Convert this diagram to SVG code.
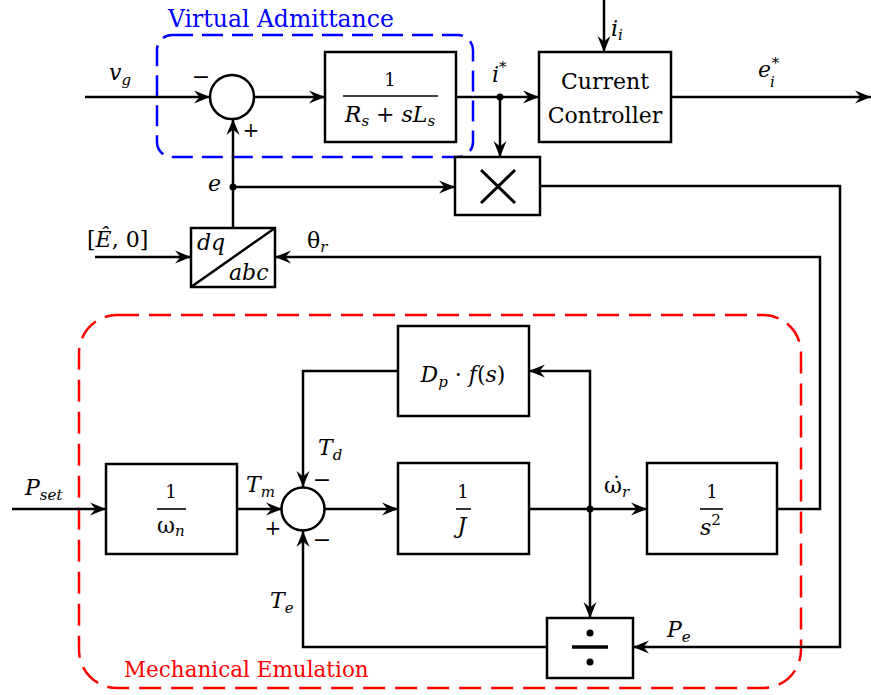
<svg xmlns="http://www.w3.org/2000/svg" width="871" height="695" viewBox="0 0 871 695">
<style>
.blk{fill:#fff;stroke:#000;stroke-width:2.5}
.ln{fill:none;stroke:#000;stroke-width:2.5;marker-end:url(#ah)}
.t{fill:#000}
.m{font-style:italic;fill:#000;font-size:22px}
.up{font-style:normal}
.sub{font-size:15px}
.bar{stroke:#000;stroke-width:1.6}
.dot{fill:#000}
</style>
<defs>
<marker id="ah" markerUnits="userSpaceOnUse" markerWidth="18" markerHeight="14" viewBox="-17 -7 18 14" refX="0" refY="0" orient="auto">
<path d="M0,0 L-16,-6.5 L-10.5,0 L-16,6.5 Z" fill="#000"/>
</marker>
</defs>
<rect width="871" height="695" fill="#fff"/>

<g font-family="DejaVu Serif, Liberation Serif, serif">
<g id="groups">
<rect x="157" y="35" width="316" height="122" rx="15" fill="none" stroke="#0000ff" stroke-width="2.5" stroke-dasharray="21 9"/>
<text class="t" x="168" y="27" font-size="23.5" style="fill:#0000ff">Virtual Admittance</text>
<rect x="79" y="315" width="722" height="373" rx="38" fill="none" stroke="#ff0000" stroke-width="2.5" stroke-dasharray="22 10"/>
<text class="t" x="124" y="677" font-size="21.5" style="fill:#ff0000">Mechanical Emulation</text>
</g>

<g id="connectors">
<line class="ln" x1="85" y1="97" x2="210" y2="97"/>
<line class="ln" x1="254" y1="97" x2="325" y2="97"/>
<line class="ln" x1="456" y1="97" x2="539" y2="97"/>
<line class="ln" x1="500" y1="97" x2="500" y2="157"/>
<line class="ln" x1="233" y1="228" x2="233" y2="119"/>
<line class="ln" x1="233" y1="187" x2="455" y2="187"/>
<line class="ln" x1="604" y1="0" x2="604" y2="52"/>
<line class="ln" x1="671" y1="97" x2="871" y2="97"/>
<polyline class="ln" points="540,186 840,186 840,647 633,647"/>
<polyline class="ln" points="777,509 820,509 820,257 275,257"/>
<line class="ln" x1="95" y1="257" x2="191" y2="257"/>
<line class="ln" x1="12" y1="509" x2="106" y2="509"/>
<line class="ln" x1="237" y1="509" x2="282" y2="509"/>
<line class="ln" x1="325" y1="509" x2="398" y2="509"/>
<line class="ln" x1="529" y1="509" x2="647" y2="509"/>
<polyline class="ln" points="590,509 590,371 529,371"/>
<line class="ln" x1="590" y1="509" x2="590" y2="618"/>
<polyline class="ln" points="398,371 303,371 303,487"/>
<polyline class="ln" points="547,647 303,647 303,531"/>
<circle class="dot" cx="500" cy="97" r="3.5"/>
<circle class="dot" cx="233" cy="187" r="3.5"/>
<circle class="dot" cx="590" cy="509" r="3.5"/>
</g>

<g id="sum1">
<circle cx="232" cy="97" r="22" fill="#fff" stroke="#000" stroke-width="2.5"/>
<text class="t" x="201" y="84" font-size="22" text-anchor="middle">−</text>
<text class="t" x="251" y="137" font-size="20" text-anchor="middle">+</text>
</g>

<g id="admittance">
<rect class="blk" x="325" y="52" width="131" height="90"/>
<text class="t" x="390" y="86" font-size="18" text-anchor="middle">1</text>
<line class="bar" x1="343" y1="96" x2="438" y2="96"/>
<text class="m" x="390" y="122" text-anchor="middle">R<tspan class="sub" dy="4">s</tspan><tspan class="up" dy="-4"> + </tspan>s<tspan>L</tspan><tspan class="sub" dy="4">s</tspan></text>
</g>

<g id="controller">
<rect class="blk" x="539" y="52" width="132" height="90"/>
<text class="t" x="605" y="89" font-size="22" text-anchor="middle">Current</text>
<text class="t" x="605" y="123" font-size="22" text-anchor="middle">Controller</text>
</g>

<g id="mult">
<rect class="blk" x="455" y="157" width="85" height="58"/>
<line x1="481" y1="170" x2="515" y2="203" stroke="#000" stroke-width="3"/>
<line x1="515" y1="170" x2="481" y2="203" stroke="#000" stroke-width="3"/>
</g>

<g id="dqabc">
<rect class="blk" x="191" y="228" width="84" height="59"/>
<line x1="191" y1="287" x2="275" y2="228" stroke="#000" stroke-width="2.5"/>
<text class="m" x="197" y="250">dq</text>
<text class="m" x="229" y="280">abc</text>
</g>

<g id="omega_n">
<rect class="blk" x="106" y="464" width="131" height="90"/>
<text class="t" x="171" y="498" font-size="18" text-anchor="middle">1</text>
<line class="bar" x1="157" y1="509" x2="186" y2="509"/>
<text class="m" x="157" y="533"><tspan class="up">ω</tspan><tspan class="sub" dy="3">n</tspan></text>
</g>

<g id="sum2">
<circle cx="303" cy="509" r="21.5" fill="#fff" stroke="#000" stroke-width="2.5"/>
<text class="t" x="273" y="535" font-size="20" text-anchor="middle">+</text>
<text class="t" x="322" y="487" font-size="22" text-anchor="middle">−</text>
<text class="t" x="322" y="547" font-size="22" text-anchor="middle">−</text>
</g>

<g id="damping">
<rect class="blk" x="398" y="326" width="131" height="90"/>
<text class="m" x="463" y="382" text-anchor="middle">D<tspan class="sub" dy="5">p</tspan><tspan class="up" dy="-5"> · </tspan>f<tspan class="up">(</tspan>s<tspan class="up">)</tspan></text>
</g>

<g id="inertia">
<rect class="blk" x="398" y="463" width="131" height="91"/>
<text class="t" x="463" y="498" font-size="18" text-anchor="middle">1</text>
<line class="bar" x1="456" y1="509" x2="471" y2="509"/>
<text class="m" x="462" y="533" text-anchor="middle">J</text>
</g>

<g id="integrator">
<rect class="blk" x="647" y="463" width="130" height="91"/>
<text class="t" x="712" y="498" font-size="18" text-anchor="middle">1</text>
<line class="bar" x1="700" y1="509" x2="723" y2="509"/>
<text class="m" x="700" y="535">s<tspan class="up sub" dy="-10">2</tspan></text>
</g>

<g id="divide">
<rect class="blk" x="547" y="618" width="86" height="60"/>
<line x1="572" y1="647" x2="608" y2="647" stroke="#000" stroke-width="3.5"/>
<circle class="dot" cx="590" cy="633" r="3.5"/>
<circle class="dot" cx="590" cy="662" r="3.5"/>
</g>

<g id="labels">
<text class="m" x="109" y="80">v<tspan class="sub" dy="5">g</tspan></text>
<text class="m" x="492" y="82">i<tspan class="up sub" dy="-10">*</tspan></text>
<text class="m" x="611" y="36">i<tspan class="sub" dy="4">i</tspan></text>
<text class="m" x="758" y="77">e<tspan class="sub" dy="10" dx="-1">i</tspan><tspan class="up sub" dy="-19" dx="-3">*</tspan></text>
<text class="m" x="208" y="191">e</text>
<text class="t" x="87" y="247" font-size="22">[<tspan font-style="italic">Ê</tspan>, 0]</text>
<text class="t" x="307" y="248" font-size="22">θ<tspan class="sub" font-style="italic" dy="4">r</tspan></text>
<text class="m" x="25" y="495">P<tspan class="sub" dy="5">set</tspan></text>
<text class="m" x="246" y="492">T<tspan class="sub" dy="5">m</tspan></text>
<text class="m" x="318" y="455">T<tspan class="sub" dy="5">d</tspan></text>
<text class="m" x="270" y="608">T<tspan class="sub" dy="5">e</tspan></text>
<text class="t" x="604" y="493" font-size="22">ω̇<tspan class="sub" font-style="italic" dy="4">r</tspan></text>
<text class="m" x="667" y="637">P<tspan class="sub" dy="5">e</tspan></text>
</g>
</g>
</svg>
